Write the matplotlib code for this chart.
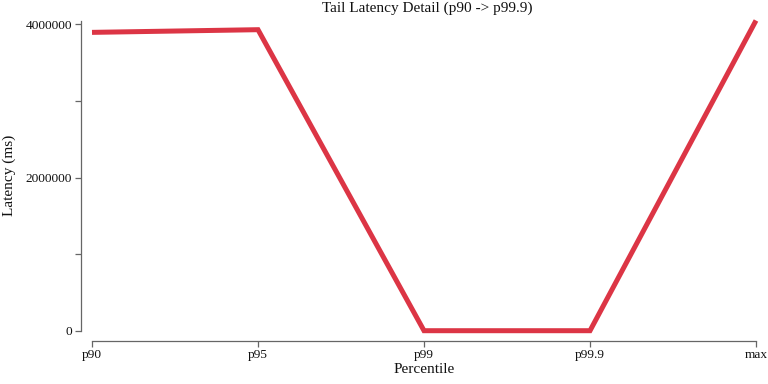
import matplotlib.pyplot as plt

# 数据
percentiles = ['p90', 'p95', 'p99', 'p99.9', 'max']
latency_ms = [3895000, 3930000, 0, 0, 4050000]
y_ticks = [0, 1000000, 2000000, 3000000, 4000000]
y_tick_labels = ['0', '', '2000000', '', '4000000']

plt.rcParams['font.family'] = ['Liberation Serif', 'DejaVu Serif']
axis_color = '#666666'
text_color = '#111111'

W, H = 768, 384
fig = plt.figure(figsize=(W / 100, H / 100), dpi=100)
# 坐标区按像素位置放置
left, right, top, bottom = 92, 756, 20.5, 330.7
ax = fig.add_axes([left / W, 1 - bottom / H, (right - left) / W, (bottom - top) / H])

x = list(range(len(percentiles)))
ax.plot(x, latency_ms, color='#dc3545', linewidth=3.6,
        solid_joinstyle='miter', solid_capstyle='butt', clip_on=False)

ax.set_xlim(0, len(percentiles) - 1)
ax.set_ylim(0, max(latency_ms))
ax.set_xticks(x)
ax.set_xticklabels(percentiles)
ax.set_yticks(y_ticks)
ax.set_yticklabels(y_tick_labels)

for s in ['top', 'right']:
    ax.spines[s].set_visible(False)
ax.spines['left'].set_position(('outward', 8))
ax.spines['bottom'].set_position(('outward', 7.2))
for s in ['left', 'bottom']:
    ax.spines[s].set_color(axis_color)
    ax.spines[s].set_linewidth(0.9)

ax.tick_params(axis='both', direction='out', length=4.3, width=0.9,
               color=axis_color, labelsize=9.6, labelcolor=text_color, pad=2)

ax.set_xlabel('Percentile', fontsize=11, color=text_color, labelpad=1)
ax.set_ylabel('Latency (ms)', fontsize=11, color=text_color, labelpad=7)
fig.text((left + right) / 2 / W + 0.004, 1 - 8 / H, 'Tail Latency Detail (p90 -> p99.9)',
         ha='center', va='center', fontsize=11, color=text_color)

plt.savefig('out.png', dpi=100)
